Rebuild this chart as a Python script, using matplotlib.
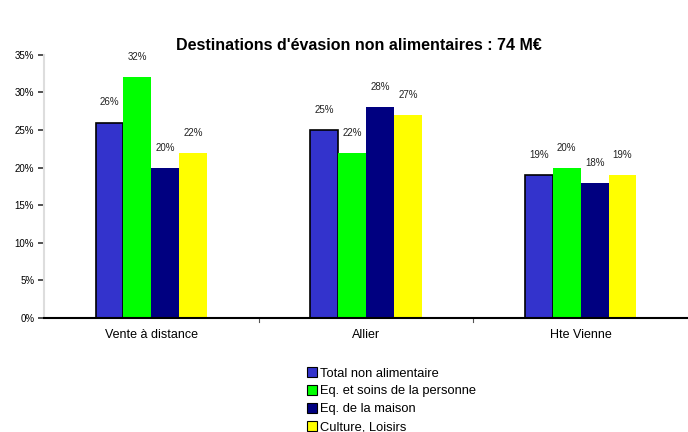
import matplotlib
matplotlib.use("Agg")
import matplotlib.pyplot as plt
import numpy as np

# Data
categories = ["Vente à distance", "Allier", "Hte Vienne"]
series_names = ["Total non alimentaire", "Eq. et soins de la personne",
                "Eq. de la maison", "Culture, Loisirs"]
total_non_alim = [26, 25, 19]
eq_personne = [32, 22, 20]
eq_maison = [20, 28, 18]
culture_loisirs = [22, 27, 19]
yticks = [0, 5, 10, 15, 20, 25, 30, 35]

series = [total_non_alim, eq_personne, eq_maison, culture_loisirs]
colors = ["#3333CC", "#00FF00", "#000080", "#FFFF00"]

plt.rcParams["font.family"] = ["Liberation Sans", "DejaVu Sans"]

fig = plt.figure(figsize=(6.88, 4.32), dpi=100)
ax = fig.add_axes([0.064, 0.264, 0.936, 0.609])

x = np.arange(len(categories))
bw = 0.13
offsets = (np.arange(4) - 1.5) * bw
for i, (vals, col) in enumerate(zip(series, colors)):
    edge = "black" if i == 0 else col
    bars = ax.bar(x + offsets[i], vals, width=bw, color=col,
                  edgecolor=edge, linewidth=1.2 if i == 0 else 0,
                  label=series_names[i], zorder=3)
    for b, v in zip(bars, vals):
        ax.text(b.get_x() + b.get_width() / 2, v + 2.0, f"{v}%",
                ha="center", va="bottom", fontsize=7, color="#222222")

ax.set_xlim(-0.5, 2.5)
ax.set_ylim(0, 35)
ax.set_yticks(yticks)
ax.set_yticklabels([f"{t}%" for t in yticks], fontsize=7)
ax.set_xticks(x)
ax.set_xticklabels(categories, fontsize=9)
ax.tick_params(axis="x", length=0, pad=8)
ax.tick_params(axis="y", length=4, width=1.2, color="#333333", pad=3)
# category separators on the base line
for sep in [0.5, 1.5]:
    ax.plot([sep, sep], [0, -0.5], color="#555555", lw=0.8, clip_on=False)

for s in ["top", "right"]:
    ax.spines[s].set_visible(False)
ax.spines["left"].set_color("#DDDDDD")
ax.spines["left"].set_linewidth(1.5)
ax.spines["bottom"].set_color("black")
ax.spines["bottom"].set_linewidth(1.5)
ax.spines["bottom"].set_zorder(4)

fig.text(0.522, 0.895, "Destinations d'évasion non alimentaires : 74 M€",
         ha="center", va="center", fontsize=11.5, fontweight="bold")

leg = fig.legend(loc="upper left", bbox_to_anchor=(0.438, 0.162),
                 frameon=False, fontsize=9.3, handlelength=0.8,
                 handleheight=0.8, handletextpad=0.25, labelspacing=0.42,
                 borderaxespad=0)
for h in leg.legend_handles:
    h.set_edgecolor("black")
    h.set_linewidth(0.8)

fig.savefig("out.png", dpi=100)
